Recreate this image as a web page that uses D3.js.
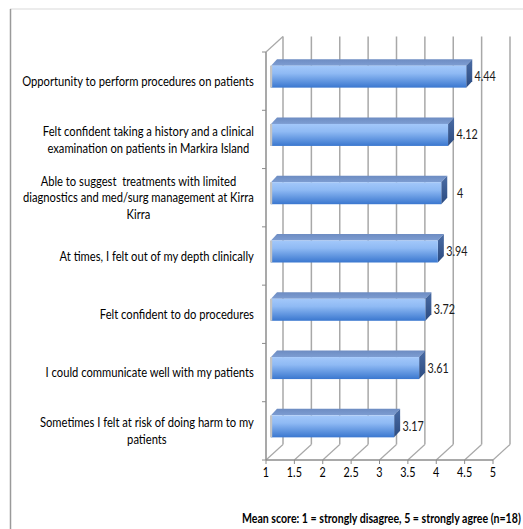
<!DOCTYPE html>
<html>
<head>
<meta charset="utf-8">
<script src="https://cdn.jsdelivr.net/npm/d3@7"></script>
<style>
  html, body { margin: 0; padding: 0; background: #fff; }
  svg { display: block; }
  text { font-family: Lato, "Open Sans", sans-serif; white-space: pre; }
</style>
</head>
<body>
<svg id="chart" width="523" height="529"></svg>
<script>
// ---- data ----
const categories = [
  "Opportunity to perform procedures on patients",
  "Felt confident taking a history and a clinical\nexamination on patients in Markira Island",
  "Able to suggest  treatments with limited\ndiagnostics and med/surg management at Kirra\nKirra",
  "At times, I felt out of my depth clinically",
  "Felt confident to do procedures",
  "I could communicate well with my patients",
  "Sometimes I felt at risk of doing harm to my\npatients"
];
const values = [4.44, 4.12, 4, 3.94, 3.72, 3.61, 3.17];
const valueLabels = ["4.44", "4.12", "4", "3.94", "3.72", "3.61", "3.17"];
const tickValues = [1, 1.5, 2, 2.5, 3, 3.5, 4, 4.5, 5];
const tickLabels = ["1", "1.5", "2", "2.5", "3", "3.5", "4", "4.5", "5"];
const axisTitle = "Mean score: 1 = strongly disagree, 5 = strongly agree (n=18)";

// ---- layout ----
const svg = d3.select("#chart");
const front = { left: 266, right: 493, top: 52, bottom: 460 };
const depth = { dx: 17, dy: -15.5 };          // back wall offset
const barShift = { dx: 5, dy: -4.5 };         // bar front face offset from front plane
const barDepth = { dx: 6, dy: -6.5 };         // bar thickness in depth
const barH = 22;

const x = d3.scaleLinear().domain([1, 5]).range([front.left, front.right]);
const y = d3.scaleBand().domain(d3.range(categories.length)).range([front.top, front.bottom]);

const defs = svg.append("defs");
const gFront = defs.append("linearGradient").attr("id", "gFront").attr("x1", 0).attr("y1", 0).attr("x2", 0).attr("y2", 1);
gFront.append("stop").attr("offset", "0%").attr("stop-color", "#a3c8fa");
gFront.append("stop").attr("offset", "35%").attr("stop-color", "#8fbaf4");
gFront.append("stop").attr("offset", "100%").attr("stop-color", "#3a77cf");
const gTop = defs.append("linearGradient").attr("id", "gTop").attr("x1", 0).attr("y1", 0).attr("x2", 0).attr("y2", 1);
gTop.append("stop").attr("offset", "0%").attr("stop-color", "#6d8cc2");
gTop.append("stop").attr("offset", "100%").attr("stop-color", "#7d9dd2");
const gSide = defs.append("linearGradient").attr("id", "gSide").attr("x1", 0).attr("y1", 0).attr("x2", 0).attr("y2", 1);
gSide.append("stop").attr("offset", "0%").attr("stop-color", "#4a6ca5");
gSide.append("stop").attr("offset", "100%").attr("stop-color", "#2c4b80");

// outer chart border (left and top visible)
svg.append("line").attr("x1", 10).attr("y1", 9).attr("x2", 523).attr("y2", 9)
  .attr("stroke", "#d9d9d9").attr("stroke-width", 1);
svg.append("line").attr("x1", 10.5).attr("y1", 9).attr("x2", 10.5).attr("y2", 529)
  .attr("stroke", "#9a9a9a").attr("stroke-width", 1.5);

// ---- walls & gridlines ----
const grid = svg.append("g");
const gridColor = "#a8a8a8";
const backTop = front.top + depth.dy;
const backBottom = front.bottom + depth.dy;
grid.selectAll("line.gv").data(tickValues).join("line")
  .attr("x1", d => x(d) + depth.dx).attr("x2", d => x(d) + depth.dx)
  .attr("y1", backTop).attr("y2", backBottom)
  .attr("stroke", gridColor).attr("stroke-width", 1.5);
grid.selectAll("line.gf").data(tickValues).join("line")
  .attr("x1", d => x(d)).attr("y1", front.bottom)
  .attr("x2", d => x(d) + depth.dx).attr("y2", backBottom)
  .attr("stroke", gridColor).attr("stroke-width", 1.2);
grid.append("line").attr("x1", front.left).attr("x2", front.right)
  .attr("y1", front.bottom).attr("y2", front.bottom)
  .attr("stroke", "#8c8c8c").attr("stroke-width", 1.5);
grid.selectAll("line.bt").data(tickValues).join("line")
  .attr("x1", d => x(d)).attr("x2", d => x(d))
  .attr("y1", front.bottom).attr("y2", front.bottom + 4)
  .attr("stroke", "#8c8c8c").attr("stroke-width", 1);
grid.append("line").attr("x1", front.left).attr("x2", front.left)
  .attr("y1", front.top).attr("y2", front.bottom)
  .attr("stroke", "#8c8c8c").attr("stroke-width", 1.5);
grid.append("line").attr("x1", front.left).attr("y1", front.top)
  .attr("x2", front.left + depth.dx).attr("y2", backTop)
  .attr("stroke", gridColor).attr("stroke-width", 1.2);
const bounds = d3.range(categories.length + 1).map(i => front.top + i * y.step());
grid.selectAll("line.lt").data(bounds).join("line")
  .attr("x1", front.left - 4).attr("x2", front.left)
  .attr("y1", d => d).attr("y2", d => d)
  .attr("stroke", "#8c8c8c").attr("stroke-width", 1);

// ---- bars ----
const bars = svg.append("g");
values.forEach((v, i) => {
  const yc = y(i) + y.bandwidth() / 2 + barShift.dy;
  const y0 = yc - barH / 2, y1 = yc + barH / 2;
  const x0 = x(1) + barShift.dx, x1 = x(v) + barShift.dx;
  const g = bars.append("g");
  g.append("path").attr("d",
    `M${x0},${y0} L${x0 + barDepth.dx},${y0 + barDepth.dy} L${x1 + barDepth.dx},${y0 + barDepth.dy} L${x1},${y0} Z`)
    .attr("fill", "url(#gTop)");
  g.append("path").attr("d",
    `M${x1},${y0} L${x1 + barDepth.dx},${y0 + barDepth.dy} L${x1 + barDepth.dx},${y1 + barDepth.dy} L${x1},${y1} Z`)
    .attr("fill", "url(#gSide)");
  g.append("rect").attr("x", x0).attr("y", y0).attr("width", x1 - x0).attr("height", barH)
    .attr("fill", "url(#gFront)");
  g.append("rect").attr("x", x0 - 1).attr("y", y0).attr("width", 2.2).attr("height", barH)
    .attr("fill", "#c4c4c4");
});

// ---- text ----
const fontSize = 13.5;
const probe = svg.append("text").attr("font-size", fontSize).text(categories[0]);
const natural = probe.node().getComputedTextLength();
probe.remove();
const sx = 232 / natural;

const lineH = 16.7;
const labelRight = 254;
const labels = svg.append("g");
categories.forEach((c, i) => {
  const lines = c.split("\n");
  const yc = y(i) + y.bandwidth() / 2;
  const widths = lines.map(l => {
    const t = labels.append("text").attr("font-size", fontSize).text(l);
    const w = t.node().getComputedTextLength() * sx;
    t.remove();
    return w;
  });
  const blockW = d3.max(widths);
  const cx = labelRight - blockW / 2;
  lines.forEach((l, k) => {
    const ly = yc + (k - (lines.length - 1) / 2) * lineH;
    labels.append("text")
      .attr("transform", `translate(${cx},${ly}) scale(${sx},1)`)
      .attr("text-anchor", "middle").attr("dy", "0.35em")
      .attr("font-size", fontSize).attr("fill", "#000")
      .text(l);
  });
});

svg.append("g").selectAll("text").data(values).join("text")
  .attr("transform", (d, i) => `translate(${x(d) + barShift.dx + 19},${y(i) + y.bandwidth() / 2 + barShift.dy}) scale(${sx},1)`)
  .attr("text-anchor", "middle").attr("dy", "0.35em")
  .attr("font-size", 13).attr("fill", "#1a1a1a")
  .text((d, i) => valueLabels[i]);

svg.append("g").selectAll("text").data(tickValues).join("text")
  .attr("transform", d => `translate(${x(d)},${472}) scale(${sx},1)`)
  .attr("text-anchor", "middle").attr("dy", "0.35em")
  .attr("font-size", 13).attr("fill", "#000")
  .text((d, i) => tickLabels[i]);

const title = svg.append("text").attr("font-size", 13).attr("font-weight", "bold").text(axisTitle);
const tw = title.node().getComputedTextLength();
const tsx = 279 / tw;
title.attr("transform", `translate(242,518) scale(${tsx},1)`).attr("dy", "0.35em").attr("fill", "#000");
</script>
</body>
</html>
